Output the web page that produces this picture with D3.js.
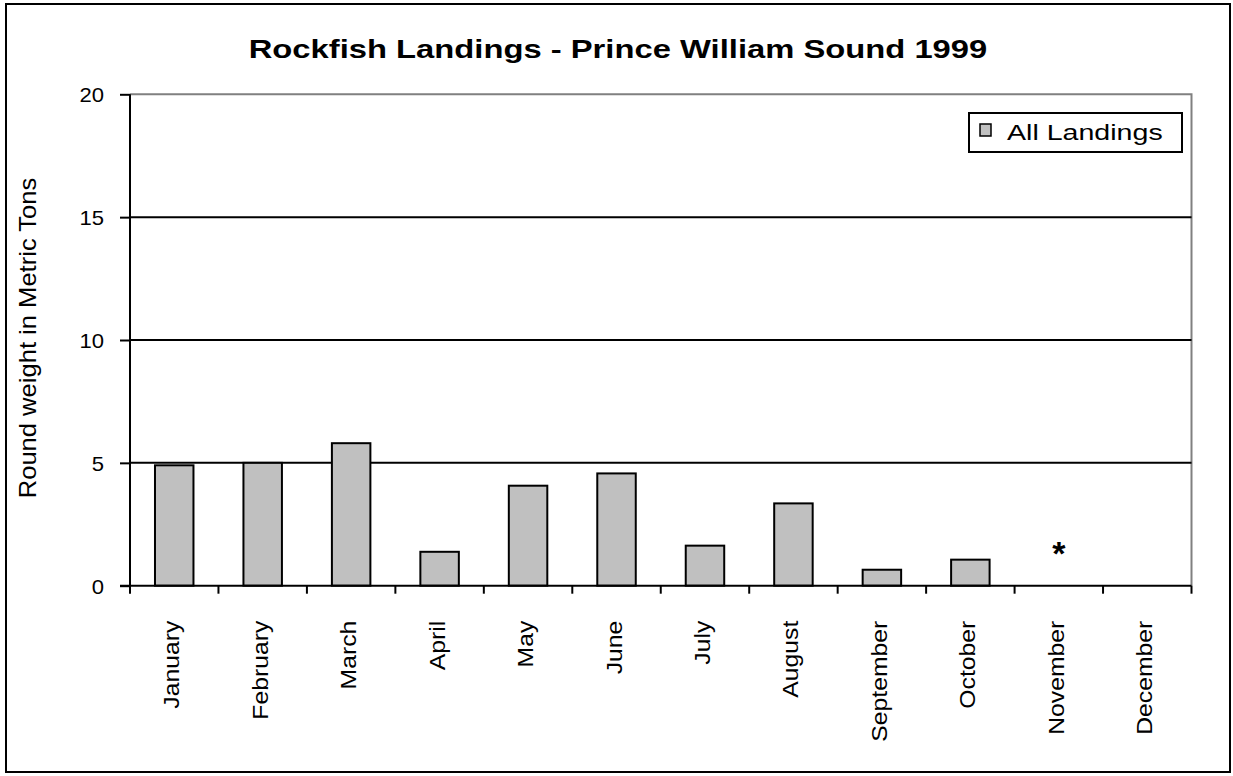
<!DOCTYPE html>
<html><head><meta charset="utf-8">
<script src="https://cdn.jsdelivr.net/npm/d3@7"></script>
<style>body{margin:0;background:#fff}svg{display:block}</style>
</head><body>
<script>
const months = ["January","February","March","April","May","June","July","August","September","October","November","December"];
const landings = [4.9, 5.0, 5.8, 1.38, 4.07, 4.57, 1.63, 3.35, 0.65, 1.06, 0, 0];
const notes = ["","","","","","","","","","","*",""];
const yTicks = [0, 5, 10, 15, 20];
const title = "Rockfish Landings - Prince William Sound 1999";
const yLabel = "Round weight in Metric Tons";
const legendLabel = "All Landings";

const W = 1233, H = 776;
const svg = d3.select("body").append("svg").attr("width", W).attr("height", H);
const font = "Liberation Sans, Arial, sans-serif";

// widen text along its baseline (reference text is wider than plain Arial)
function stretch(sel, k) {
  sel.each(function () {
    const len = this.getComputedTextLength();
    d3.select(this).attr("textLength", len * k).attr("lengthAdjust", "spacingAndGlyphs");
  });
}

svg.append("rect").attr("x", 6).attr("y", 4).attr("width", 1224).attr("height", 768)
  .attr("fill", "#fff").attr("stroke", "#000").attr("stroke-width", 2);

const m = {l: 130, r: 1191.5, t: 94.3, b: 585.7};
const x = d3.scaleBand().domain(months).range([m.l, m.r]).paddingInner(0.565).paddingOuter(0.2825);
const xb = d3.scaleBand().domain(months).range([m.l, m.r]);
const y = d3.scaleLinear().domain([0, 20]).range([m.b, m.t]);

// plot border top & right (gray)
svg.append("path").attr("d", `M${m.l},${m.t}H${m.r}V${m.b}`).attr("fill", "none")
  .attr("stroke", "#808080").attr("stroke-width", 2);

// gridlines
svg.append("g").selectAll("line").data(yTicks.filter(d => d > 0 && d < 20)).join("line")
  .attr("x1", m.l).attr("x2", m.r).attr("y1", d => y(d)).attr("y2", d => y(d))
  .attr("stroke", "#000").attr("stroke-width", 2);

// bars
svg.append("g").selectAll("rect").data(months.map((mo, i) => ({mo, v: landings[i]})).filter(d => d.v > 0)).join("rect")
  .attr("x", d => x(d.mo)).attr("width", x.bandwidth())
  .attr("y", d => y(d.v)).attr("height", d => y(0) - y(d.v))
  .attr("fill", "#c0c0c0").attr("stroke", "#000").attr("stroke-width", 2);

// y axis
const yAxis = svg.append("g").attr("transform", `translate(${m.l},0)`)
  .call(d3.axisLeft(y).tickValues(yTicks).tickSize(10).tickPadding(16).tickFormat(d3.format("d")));
yAxis.attr("font-size", null).attr("font-family", null);
yAxis.select(".domain").attr("stroke", "#000").attr("stroke-width", 2).attr("d", `M0,${m.t}V${m.b}`);
yAxis.selectAll(".tick line").attr("stroke", "#000").attr("stroke-width", 2);
yAxis.selectAll(".tick text").attr("font-family", font).attr("font-size", 21).attr("fill", "#000").attr("dy", "0.36em")
  .call(stretch, 1.05);

// x axis
const xAxis = svg.append("g").attr("transform", `translate(0,${m.b})`);
xAxis.append("line").attr("x1", m.l - 10).attr("x2", m.r).attr("y1", 0).attr("y2", 0)
  .attr("stroke", "#000").attr("stroke-width", 2);
xAxis.selectAll("line.tk").data(d3.range(months.length + 1)).join("line").attr("class", "tk")
  .attr("x1", i => m.l + i * xb.step()).attr("x2", i => m.l + i * xb.step())
  .attr("y1", 0).attr("y2", 8).attr("stroke", "#000").attr("stroke-width", 2);
xAxis.selectAll("text").data(months).join("text")
  .attr("transform", d => `translate(${xb(d) + xb.bandwidth() / 2 + 5},35) rotate(-90)`)
  .attr("text-anchor", "end").attr("font-family", font).attr("font-size", 21.5).text(d => d)
  .call(stretch, 1.15);

// notes
svg.append("g").selectAll("text").data(months.map((mo, i) => ({mo, n: notes[i]})).filter(d => d.n)).join("text")
  .attr("x", d => xb(d.mo) + xb.bandwidth() / 2).attr("y", y(0) - 21)
  .attr("text-anchor", "middle").attr("font-family", font).attr("font-size", 34).attr("font-weight", "bold").text(d => d.n);

// title
svg.append("text").attr("x", 618).attr("y", 58).attr("text-anchor", "middle")
  .attr("font-family", font).attr("font-size", 25).attr("font-weight", "bold").text(title)
  .call(stretch, 1.31);

// y label
svg.append("text").attr("transform", `translate(36,338) rotate(-90)`)
  .attr("text-anchor", "middle").attr("font-family", font).attr("font-size", 24).text(yLabel)
  .call(stretch, 1.065);

// legend
const lg = svg.append("g");
lg.append("rect").attr("x", 969).attr("y", 113).attr("width", 213).attr("height", 39)
  .attr("fill", "#fff").attr("stroke", "#000").attr("stroke-width", 2);
lg.append("rect").attr("x", 980).attr("y", 124).attr("width", 11).attr("height", 12)
  .attr("fill", "#c0c0c0").attr("stroke", "#000").attr("stroke-width", 1.5);
lg.append("text").attr("x", 1007).attr("y", 139.5).attr("font-family", font).attr("font-size", 22.5).text(legendLabel)
  .call(stretch, 1.27);
</script>
</body></html>
